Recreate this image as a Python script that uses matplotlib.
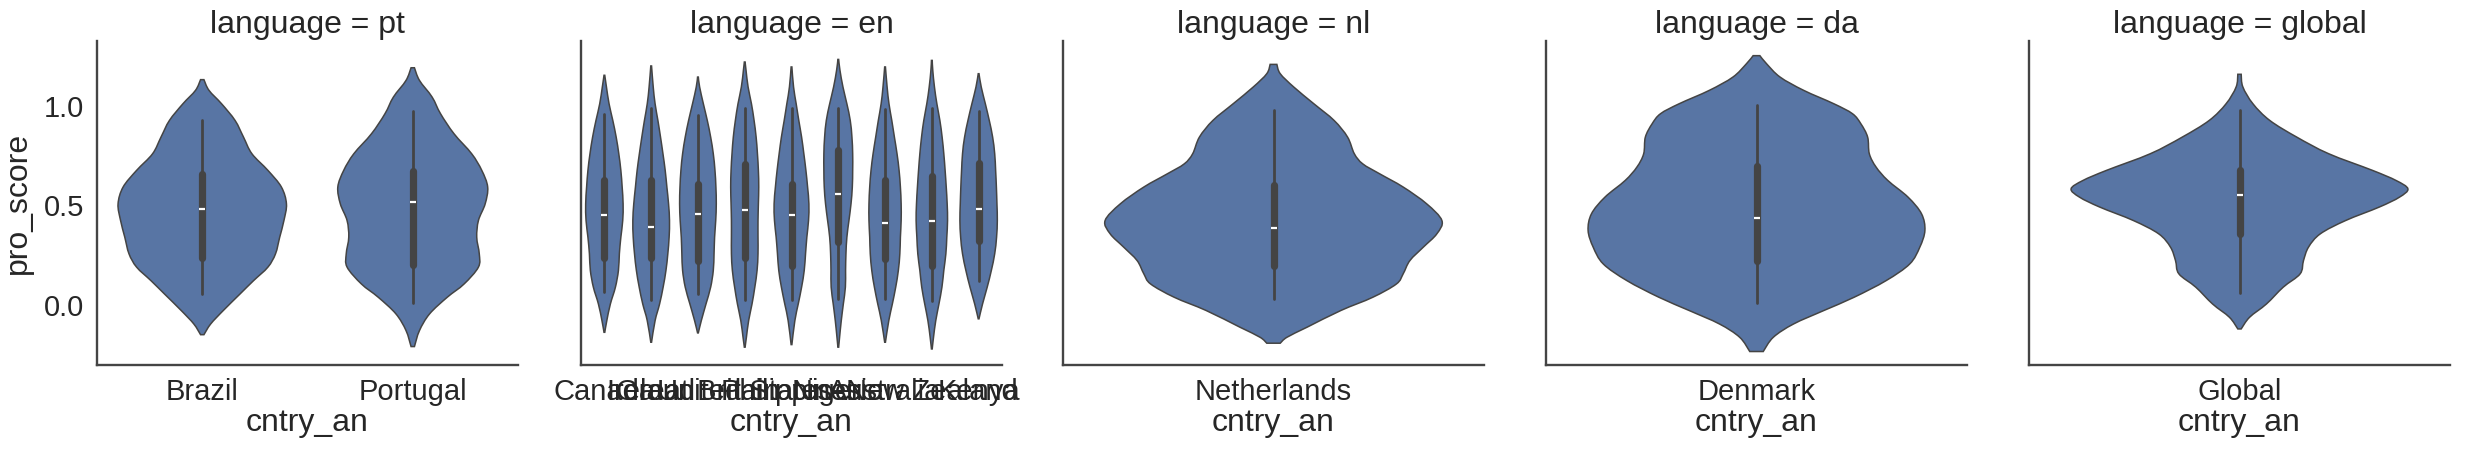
import numpy as np
import matplotlib
matplotlib.use("Agg")
import matplotlib.pyplot as plt
from matplotlib.path import Path
from matplotlib.patches import PathPatch

plt.rcParams['font.family'] = ['Liberation Sans', 'DejaVu Sans']

languages = ["pt", "en", "nl", "da", "global"]
countries = {
    "pt": ["Brazil", "Portugal"],
    "en": ["Canada", "Ireland", "Great Britain", "United States", "Philippines",
           "Nigeria", "Australia", "New Zealand", "Kenya"],
    "nl": ["Netherlands"],
    "da": ["Denmark"],
    "global": ["Global"],
}

# density profiles: pro_score level and relative density (1 = widest in facet)
brazil_y = [1.135, 1.081, 1.013, 0.929, 0.845, 0.761, 0.677, 0.593, 0.508, 0.424, 0.340, 0.256, 0.189, 0.121, 0.054, -0.030, -0.098, -0.152]
brazil_d = [0.02, 0.08, 0.23, 0.39, 0.49, 0.59, 0.78, 0.94, 1.0, 0.97, 0.92, 0.87, 0.78, 0.61, 0.45, 0.25, 0.10, 0.02]
portugal_y = [1.195, 1.131, 1.047, 0.963, 0.862, 0.761, 0.677, 0.593, 0.508, 0.424, 0.340, 0.256, 0.189, 0.104, 0.037, -0.047, -0.131, -0.212]
portugal_d = [0.02, 0.08, 0.23, 0.33, 0.49, 0.70, 0.82, 0.89, 0.86, 0.78, 0.76, 0.79, 0.78, 0.61, 0.41, 0.20, 0.08, 0.02]

mid = [1.098, 1.013, 0.929, 0.845, 0.761, 0.677, 0.593, 0.508, 0.424, 0.340, 0.256, 0.172, 0.088, 0.003, -0.081]
en_y = [
    [1.157] + mid + [-0.140],
    [1.204] + mid + [-0.190],
    [1.148] + mid + [-0.143],
    [1.224, 1.182] + mid + [-0.165, -0.215],
    [1.199] + mid + [-0.202],
    [1.237, 1.182] + mid + [-0.165, -0.215],
    [1.199] + mid + [-0.190],
    [1.232, 1.182] + mid + [-0.165, -0.224],
    [1.165] + mid[:-1] + [-0.072],
]
en_d = [
    [0.02, 0.11, 0.25, 0.45, 0.63, 0.77, 0.88, 0.95, 1.0, 0.98, 0.88, 0.80, 0.75, 0.59, 0.32, 0.13, 0.02],
    [0.02, 0.11, 0.21, 0.36, 0.50, 0.63, 0.75, 0.84, 0.93, 0.98, 0.96, 0.89, 0.79, 0.64, 0.45, 0.21, 0.02],
    [0.02, 0.09, 0.29, 0.50, 0.68, 0.82, 0.91, 0.96, 0.98, 0.95, 0.89, 0.86, 0.82, 0.68, 0.43, 0.18, 0.02],
    [0.02, 0.07, 0.18, 0.36, 0.50, 0.61, 0.68, 0.73, 0.75, 0.73, 0.71, 0.71, 0.71, 0.66, 0.54, 0.39, 0.21, 0.09, 0.02],
    [0.02, 0.11, 0.25, 0.39, 0.54, 0.66, 0.77, 0.86, 0.93, 0.91, 0.82, 0.75, 0.68, 0.54, 0.36, 0.18, 0.02],
    [0.02, 0.09, 0.25, 0.46, 0.64, 0.73, 0.77, 0.77, 0.75, 0.68, 0.57, 0.46, 0.41, 0.39, 0.38, 0.27, 0.16, 0.07, 0.02],
    [0.02, 0.11, 0.21, 0.36, 0.50, 0.64, 0.75, 0.82, 0.86, 0.86, 0.82, 0.79, 0.71, 0.57, 0.39, 0.20, 0.02],
    [0.02, 0.05, 0.14, 0.27, 0.43, 0.55, 0.64, 0.71, 0.77, 0.82, 0.84, 0.80, 0.75, 0.64, 0.54, 0.38, 0.21, 0.09, 0.02],
    [0.02, 0.14, 0.36, 0.57, 0.75, 0.86, 0.91, 0.95, 0.98, 1.0, 0.96, 0.86, 0.68, 0.46, 0.21, 0.02],
]
nl_y = [1.212, 1.165, 1.098, 1.013, 0.929, 0.845, 0.761, 0.710, 0.660, 0.593, 0.508, 0.424, 0.357, 0.290, 0.222, 0.155, 0.104, 0.037, -0.030, -0.114, -0.165, -0.195]
nl_d = [0.02, 0.04, 0.12, 0.24, 0.36, 0.44, 0.48, 0.53, 0.63, 0.77, 0.91, 1.0, 0.97, 0.89, 0.81, 0.77, 0.73, 0.59, 0.40, 0.20, 0.08, 0.04]
da_y = [1.256, 1.215, 1.148, 1.081, 1.013, 0.963, 0.912, 0.845, 0.761, 0.694, 0.626, 0.542, 0.458, 0.374, 0.290, 0.205, 0.121, 0.037, -0.030, -0.098, -0.165, -0.237]
da_d = [0.02, 0.06, 0.14, 0.28, 0.46, 0.57, 0.62, 0.66, 0.67, 0.71, 0.78, 0.90, 0.98, 1.0, 0.97, 0.91, 0.77, 0.58, 0.40, 0.22, 0.10, 0.04]
gl_y = [1.162, 1.098, 1.013, 0.929, 0.845, 0.761, 0.677, 0.626, 0.584, 0.542, 0.492, 0.424, 0.357, 0.290, 0.222, 0.155, 0.088, 0.003, -0.064, -0.123]
gl_d = [0.01, 0.02, 0.08, 0.18, 0.34, 0.53, 0.79, 0.93, 1.0, 0.95, 0.83, 0.63, 0.48, 0.41, 0.38, 0.36, 0.26, 0.16, 0.06, 0.01]

profiles_y = {"pt": [brazil_y, portugal_y], "en": en_y, "nl": [nl_y], "da": [da_y], "global": [gl_y]}
profiles_d = {"pt": [brazil_d, portugal_d], "en": en_d, "nl": [nl_d], "da": [da_d], "global": [gl_d]}

# box stats: whisker low, q1, median, q3, whisker high
box_stats = {
    "pt": [[0.051, 0.236, 0.480, 0.657, 0.929], [0.007, 0.202, 0.517, 0.673, 0.976]],
    "en": [[0.062, 0.234, 0.451, 0.630, 0.960], [0.024, 0.234, 0.391, 0.630, 0.993],
           [0.051, 0.219, 0.456, 0.609, 0.955], [0.024, 0.236, 0.476, 0.710, 0.993],
           [0.024, 0.197, 0.451, 0.606, 0.993], [0.029, 0.315, 0.557, 0.778, 0.993],
           [0.029, 0.231, 0.411, 0.630, 0.988], [0.020, 0.197, 0.421, 0.650, 0.993],
           [0.118, 0.323, 0.481, 0.714, 0.976]],
    "nl": [[0.029, 0.197, 0.386, 0.601, 0.983]],
    "da": [[0.007, 0.222, 0.436, 0.699, 1.008]],
    "global": [[0.057, 0.357, 0.552, 0.677, 0.980]],
}

face = "#5875a4"
line = "#444444"
text_c = "#262626"


def smooth_side(pts):
    # bezier segments through the points (catmull-rom style handles)
    pts = np.asarray(pts)
    ext = np.vstack([pts[0], pts, pts[-1]])
    verts, codes = [], []
    for j in range(len(pts) - 1):
        p0, p1, p2, p3 = ext[j], ext[j + 1], ext[j + 2], ext[j + 3]
        verts += [p1 + (p2 - p0) / 6, p2 - (p3 - p1) / 6, p2]
        codes += [Path.CURVE4] * 3
    return verts, codes


def violin_patch(pos, y, d):
    y = np.asarray(y)
    w = np.asarray(d) * 0.4
    right = np.column_stack([pos + w, y])
    left = np.column_stack([pos - w, y])[::-1]
    verts = [left[-1], right[0]]
    codes = [Path.MOVETO, Path.LINETO]
    v, c = smooth_side(right)
    verts += v
    codes += c
    verts.append(left[0])
    codes.append(Path.LINETO)
    v, c = smooth_side(left)
    verts += v
    codes += c
    verts.append(left[-1])
    codes.append(Path.CLOSEPOLY)
    return PathPatch(Path(verts, codes), facecolor=face, edgecolor=line, linewidth=1.1, zorder=2)


W, H = 2492, 451
fig = plt.figure(figsize=(W / 100, H / 100), dpi=100)
lefts = [97, 581, 1063, 1546, 2029]
for k, lang in enumerate(languages):
    ax = fig.add_axes([lefts[k] / W, (H - 365) / H, 421 / W, 324 / H])
    names = countries[lang]
    for i, name in enumerate(names):
        ax.add_patch(violin_patch(i, profiles_y[lang][i], profiles_d[lang][i]))
        wlo, q1, med, q3, whi = box_stats[lang][i]
        ax.plot([i, i], [wlo, whi], color=line, lw=2.0, solid_capstyle='round', zorder=3)
        ax.plot([i, i], [q1, q3], color=line, lw=5.2, solid_capstyle='round', zorder=4)
        ax.plot([i], [med], marker='_', color='white', ms=4.5, mew=1.6, zorder=5)
    ax.set_xlim(-0.5, len(names) - 0.5)
    ax.set_ylim(-0.305, 1.33)
    ax.set_xticks(range(len(names)))
    ax.set_xticklabels(names)
    ax.set_yticks([0.0, 0.5, 1.0])
    ax.tick_params(length=0, labelsize=21, colors=text_c, pad=9)
    for s in ["top", "right"]:
        ax.spines[s].set_visible(False)
    for s in ["left", "bottom"]:
        ax.spines[s].set_color(line)
        ax.spines[s].set_linewidth(1.7)
    ax.set_title(f"language = {lang}", fontsize=23, color=text_c, pad=6)
    ax.set_xlabel("cntry_an", fontsize=23, color=text_c, labelpad=2)
    if k == 0:
        ax.set_ylabel("pro_score", fontsize=23, color=text_c, labelpad=8)
    else:
        ax.set_yticklabels([])

fig.savefig("out.png", dpi=100)
